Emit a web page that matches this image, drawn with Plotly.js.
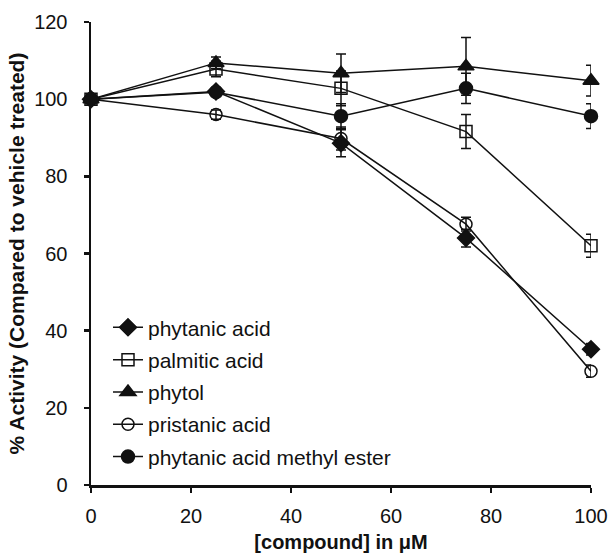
<!DOCTYPE html>
<html>
<head>
<meta charset="utf-8">
<script src="https://cdn.plot.ly/plotly-3.0.1.min.js"></script>
<style>html,body{margin:0;padding:0;background:#fff;}</style>
</head>
<body>
<div id="chart"></div>
<script>
const conc = [0, 25, 50, 75, 100];

const phytanic = [100, 102, 88.6, 64.0, 35.2];
const phytanicErr = [0, 1.0, 3.5, 2.3, 1.5];

const palmitic = [100, 107.8, 102.8, 91.6, 62.0];
const palmiticErr = [0, 2.0, 4.5, 4.4, 3.0];

const phytol = [100, 109.4, 106.7, 108.5, 104.8];
const phytolErr = [0, 1.5, 5.0, 7.5, 4.0];

const pristanic = [100, 96.0, 89.8, 67.6, 29.5];
const pristanicErr = [0, 1.2, 3.0, 1.8, 1.6];

const methylEster = [100, 101.8, 95.6, 102.8, 95.6];
const methylEsterErr = [0, 1.0, 3.2, 3.9, 3.2];

const names = ["phytanic acid", "palmitic acid", "phytol", "pristanic acid", "phytanic acid methyl ester"];
const xTicks = [0, 20, 40, 60, 80, 100];
const yTicks = [0, 20, 40, 60, 80, 100, 120];

const series = [
  {name: names[0], y: phytanic, e: phytanicErr, symbol: "diamond", size: 13},
  {name: names[1], y: palmitic, e: palmiticErr, symbol: "square-open", size: 12},
  {name: names[2], y: phytol, e: phytolErr, symbol: "triangle-up", size: 14},
  {name: names[3], y: pristanic, e: pristanicErr, symbol: "circle-open", size: 12},
  {name: names[4], y: methylEster, e: methylEsterErr, symbol: "circle", size: 13}
];

const traces = series.map((s, i) => ({
  x: conc,
  y: s.y,
  name: s.name,
  legendgroup: "g" + i,
  type: "scatter",
  mode: "lines+markers",
  line: {color: "#111", width: 1.5},
  marker: {symbol: s.symbol, size: s.size, color: "#111", line: {color: "#111", width: 1.5}},
  error_y: {type: "data", array: s.e, visible: true, color: "#111", thickness: 1.5, width: 5},
  cliponaxis: false
}));

const fontFam = "Arial, 'Liberation Sans', sans-serif";

const layout = {
  width: 610, height: 559,
  margin: {l: 91, r: 19, t: 22, b: 74},
  font: {family: fontFam, size: 20},
  showlegend: true,
  legend: {
    x: 0.034, y: 0.384, xanchor: "left", yanchor: "top",
    bgcolor: "rgba(0,0,0,0)", font: {size: 21, family: fontFam, color: "#111"},
    tracegroupgap: 2
  },
  xaxis: {
    range: [0, 100], tickvals: xTicks, ticktext: xTicks.map(String),
    showline: true, linecolor: "#111", linewidth: 2.5, ticks: "outside", ticklen: 5, tickwidth: 2.5, tickcolor: "#111",
    showgrid: false, zeroline: false, tickfont: {size: 20, color: "#111"}, ticklabelstandoff: 6,
    title: {text: "<b>[compound] in μM</b>", font: {size: 20, color: "#111"}, standoff: 10}
  },
  yaxis: {
    range: [0, 120], tickvals: yTicks, ticktext: yTicks.map(String),
    showline: true, linecolor: "#111", linewidth: 2.5, ticks: "outside", ticklen: 5, tickwidth: 2.5, tickcolor: "#111",
    showgrid: false, zeroline: false, tickfont: {size: 20, color: "#111"}, ticklabelstandoff: 12,
    title: {text: "<b>% Activity (Compared to vehicle treated)</b>", font: {size: 21, color: "#111"}, standoff: 4}
  }
};

Plotly.newPlot("chart", traces, layout, {displayModeBar: false, staticPlot: true});
</script>
</body>
</html>
